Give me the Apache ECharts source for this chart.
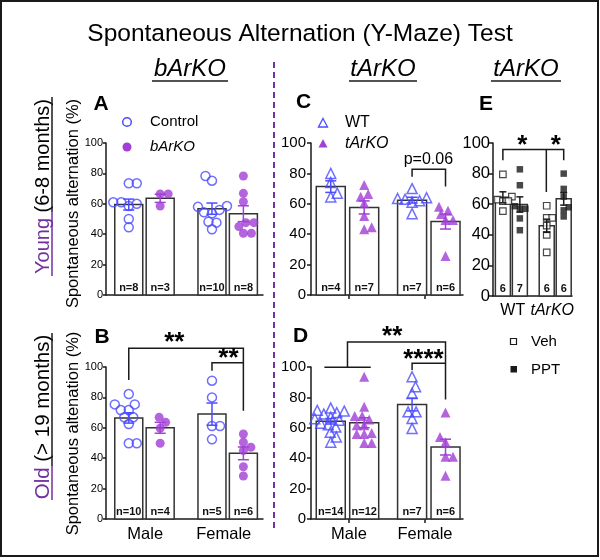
<!DOCTYPE html>
<html>
<head>
<meta charset="utf-8">
<script src="https://cdn.jsdelivr.net/npm/echarts@6/dist/echarts.min.js"></script>
<style>
  html, body { margin: 0; background: #fff; }
  #main { width: 600px; height: 560px; }
</style>
</head>
<body>
<div id="main"></div>
<script>
// ---- data ----
var sexes = ['Male', 'Female'];
var genotypesE = ['WT', 'tArKO'];

// A: young bArKO (Control / bArKO, male then female)
var aCtrlMale = [73.5, 73.5, 61, 61, 60, 58.5, 50, 44.5];
var aKoMale = [66.5, 66.5, 58.5];
var aCtrlFemale = [78.3, 75.2, 58.5, 58, 56, 54.4, 53.7, 48.2, 47.6, 43.2];
var aKoFemale = [78.3, 66.9, 61.4, 47.6, 47.6, 45, 40.6, 40.6];
var aMeans = [59.5, 63.6, 56.8, 53.5];
var aSems = [3.6, 2.7, 3.7, 5.2];

// B: old bArKO
var bCtrlMale = [82.2, 75.4, 75.4, 71.7, 71.7, 66.9, 66.9, 62.5, 49.8, 49.8];
var bKoMale = [66.9, 63.6, 59.7, 49.8];
var bCtrlFemale = [91, 80, 61.2, 61.2, 52.4];
var bKoFemale = [55.9, 50.5, 47.2, 45, 34.4, 28.3];
var bMeans = [66.5, 60, 69, 43.2];
var bSems = [3.4, 3.6, 7.3, 4.2];

// C: young tArKO (WT / tArKO)
var cWtMale = [80, 74, 67, 64.5];
var cKoMale = [72.4, 66.4, 64.7, 60.3, 52, 44.5, 43.2];
var cWtFemale = [70, 64, 63.5, 63, 62, 61, 53.5];
var cKoFemale = [58.1, 55.5, 53.3, 49.3, 49.3, 25.7];
var cMeans = [71.3, 57.6, 62.4, 48.3];
var cSems = [3.8, 4.3, 1.9, 4.9];

// D: old tArKO
var dWtMale = [73, 71.5, 71, 70, 69, 67, 66, 65, 63, 62, 60.5, 57, 54, 50.5];
var dKoMale = [93.6, 73.8, 67.7, 67.7, 65.5, 61.6, 61.6, 56.6, 56, 56, 50, 50];
var dWtFemale = [93.6, 87, 82.6, 70.5, 70.5, 66.2, 59.6];
var dKoFemale = [70, 54, 50.5, 41, 41, 28.5];
var dMeans = [64.3, 63.3, 75.3, 47.3];
var dSems = [1.8, 3.3, 4.2, 5.2];

// E: WT / tArKO, Veh / PPT
var eWtVeh = [79.5, 65, 63, 62, 62, 55.5];
var eWtPpt = [82.8, 72.4, 58.7, 57, 57, 50.7, 43];
var eKoVeh = [59, 51, 51, 46, 40, 28.5];
var eKoPpt = [80, 70, 65, 58, 56, 52];
var eMeans = [64.5, 59.8, 45.9, 63.5];
var eSems = [3.6, 5.0, 4.3, 4.1];

// ---- styling ----
var FONT = 'Arial, "Liberation Sans", sans-serif';
var BLUE = '#4b4bff';
var PURPLE = '#a13fd6';
var DPURPLE = '#7030a0';
var INK = '#1a1a1a';

var chart = echarts.init(document.getElementById('main'));

var grids = [
  { left: 106, top: 143, width: 157, height: 152 },
  { left: 106, top: 367, width: 157, height: 152 },
  { left: 311, top: 143, width: 152, height: 152 },
  { left: 311, top: 367, width: 152, height: 152 },
  { left: 493, top: 143, width: 79, height: 153 }
];

var abLook = { xs: [1.45, 3.45, 6.75, 8.75], bw: 28, cap: 11, yFont: 11, yTick: 3, yMargin: 3,
  colors: [BLUE, PURPLE, BLUE, PURPLE], filled: [false, true, false, true], symbol: 'circle', size: 9, gap: 8, nPrefix: 'n=' };
var cdLook = { xs: [1.3, 3.5, 6.65, 8.85], bw: 29, cap: 11, yFont: 15, yTick: 4, yMargin: 5,
  colors: [BLUE, PURPLE, BLUE, PURPLE], filled: [false, true, false, true], symbol: 'triangle', size: 10, gap: 7.5, nPrefix: 'n=' };

var panels = [
  Object.assign({ sets: [aCtrlMale, aKoMale, aCtrlFemale, aKoFemale], means: aMeans, sems: aSems,
    cats: ['', ''], catTicks: false, notes: { lines: [], texts: [] } }, abLook),
  Object.assign({ sets: [bCtrlMale, bKoMale, bCtrlFemale, bKoFemale], means: bMeans, sems: bSems,
    cats: sexes, catTicks: false,
    notes: {
      lines: [
        [[1.45, 91.4], [1.45, 112.3], [8.75, 112.3], [8.75, 71.2]],
        [[6.75, 97.5], [6.75, 102.8], [8.75, 102.8]]
      ],
      texts: [
        { x: 4.35, y: 112.3, dy: -5, text: '**', size: 26, bold: true },
        { x: 7.8, y: 102.8, dy: -4, text: '**', size: 26, bold: true }
      ]
    } }, abLook),
  Object.assign({ sets: [cWtMale, cKoMale, cWtFemale, cKoFemale], means: cMeans, sems: cSems,
    cats: ['', ''], catTicks: true,
    notes: {
      lines: [[[6.65, 77.8], [6.65, 82.7], [8.85, 82.7], [8.85, 71.3]]],
      texts: [{ x: 7.72, y: 88.8, dy: 0, text: 'p=0.06', size: 16, bold: false }]
    } }, cdLook),
  Object.assign({ sets: [dWtMale, dKoMale, dWtFemale, dKoFemale], means: dMeans, sems: dSems,
    cats: sexes, catTicks: true,
    notes: {
      lines: [
        [[0.88, 99.8], [3.93, 99.8]],
        [[2.4, 99.8], [2.4, 116.4], [8.85, 116.4], [8.85, 78.7]],
        [[6.65, 98], [6.65, 102.4], [8.85, 102.4]]
      ],
      texts: [
        { x: 5.34, y: 116.4, dy: -5, text: '**', size: 26, bold: true },
        { x: 7.4, y: 102.4, dy: -4, text: '****', size: 26, bold: true }
      ]
    } }, cdLook),
  { sets: [eWtVeh, eWtPpt, eKoVeh, eKoPpt], means: eMeans, sems: eSems,
    cats: [genotypesE[0], '{i|' + genotypesE[1] + '}'], catTicks: false,
    xs: [1.25, 3.4, 6.8, 8.95], bw: 15, cap: 7, yFont: 16.5, yTick: 4, yMargin: 3,
    colors: [INK, INK, INK, INK], filled: [false, true, false, true], symbol: 'rect', size: 6.5, gap: 5.5, nPrefix: '',
    notes: {
      lines: [
        [[1.25, 88.7], [1.25, 95.7], [8.95, 95.7], [8.95, 88.7]],
        [[6.75, 95.7], [6.75, 68]]
      ],
      texts: [
        { x: 3.7, y: 95.7, dy: -4, text: '*', size: 26, bold: true },
        { x: 7.94, y: 95.7, dy: -4, text: '*', size: 26, bold: true }
      ]
    } }
];

// beeswarm: push each point sideways until it no longer overlaps the ones already placed
function swarm(vals, pxX, pxY, d) {
  var order = vals.map(function (v, i) { return i; }).sort(function (a, b) { return vals[a] - vals[b]; });
  var placed = [], off = [], sum = 0;
  order.forEach(function (i) {
    var y = vals[i] * pxY, best = 0;
    for (var s = 0; s < 80; s++) {
      var tries = s === 0 ? [0] : (sum > 0 ? [-s * 0.5, s * 0.5] : [s * 0.5, -s * 0.5]);
      var ok = tries.find(function (x) {
        return placed.every(function (p) { return Math.hypot(p[0] - x, p[1] - y) >= d; });
      });
      if (ok !== undefined) { best = ok; break; }
    }
    placed.push([best, y]);
    sum += best;
    off[i] = best / pxX;
  });
  return off;
}

var xAxes = [], yAxes = [], series = [], gridOpts = [];
var barSeries = [], dotSeries = [], errSeries = [], noteSeries = [];

panels.forEach(function (P, p) {
  var g = grids[p];
  gridOpts.push(Object.assign({ outerBoundsMode: 'none', containLabel: false }, g));
  xAxes.push({ type: 'value', gridIndex: p, min: 0, max: 10, show: false });
  xAxes.push({
    type: 'category', gridIndex: p, data: P.cats, position: 'bottom', boundaryGap: true,
    axisLine: { lineStyle: { color: INK, width: 1.5 } },
    axisTick: { show: P.catTicks, alignWithLabel: true, length: 4, lineStyle: { color: INK, width: 1.5 } },
    axisLabel: {
      color: '#000', fontFamily: FONT, fontSize: p === 4 ? 16 : 16.5, margin: 7, interval: 0,
      rich: { i: { fontStyle: 'italic', fontSize: 16, fontFamily: FONT, color: '#000' } }
    },
    splitLine: { show: false }
  });
  yAxes.push({
    type: 'value', gridIndex: p, min: 0, max: 100, interval: 20,
    axisLine: { show: true, lineStyle: { color: INK, width: 1.5 } },
    axisTick: { show: true, length: P.yTick, lineStyle: { color: INK, width: 1.5 } },
    axisLabel: { color: '#000', fontFamily: FONT, fontSize: P.yFont, margin: P.yMargin },
    splitLine: { show: false }
  });

  var xi = 2 * p;
  var labels = P.sets.map(function (s) { return P.nPrefix + s.length; });

  barSeries.push({
    type: 'custom', xAxisIndex: xi, yAxisIndex: p, z: 2, silent: true, clip: false,
    data: P.xs.map(function (x, j) { return [x, P.means[j]]; }),
    renderItem: function (params, api) {
      var x = api.value(0), m = api.value(1);
      var b = api.coord([x, 0]), t = api.coord([x, m]);
      return {
        type: 'group', children: [
          { type: 'rect', shape: { x: b[0] - P.bw / 2, y: t[1], width: P.bw, height: b[1] - t[1] },
            style: { fill: '#fff', stroke: '#333', lineWidth: 1.5 } },
          { type: 'text', x: b[0], y: b[1] - 7,
            style: { text: labels[params.dataIndex], fontSize: 11, fontWeight: 'bold', fontFamily: FONT,
              fill: '#111', align: 'center', verticalAlign: 'middle' } }
        ]
      };
    }
  });

  P.sets.forEach(function (vals, j) {
    var off = swarm(vals, g.width / 10, g.height / 100, P.gap);
    var col = P.colors[j];
    dotSeries.push({
      type: 'scatter', xAxisIndex: xi, yAxisIndex: p, z: 3, silent: true,
      symbol: P.symbol, symbolSize: P.size,
      data: vals.map(function (v, k) { return [P.xs[j] + off[k], v]; }),
      itemStyle: P.filled[j]
        ? { color: col }
        : { color: p === 4 ? '#fff' : 'rgba(255,255,255,0)', borderColor: col, borderWidth: p === 4 ? 1.2 : 1.5 }
    });
  });

  errSeries.push({
    type: 'custom', xAxisIndex: xi, yAxisIndex: p, z: 4, silent: true, clip: false,
    data: P.xs.map(function (x, j) { return [x, P.means[j], P.sems[j]]; }),
    renderItem: function (params, api) {
      var x = api.value(0), m = api.value(1), s = api.value(2);
      var top = api.coord([x, m + s]), bot = api.coord([x, m - s]), h = P.cap / 2;
      var st = { stroke: P.colors[params.dataIndex], lineWidth: 1.5, fill: null };
      return {
        type: 'group', children: [
          { type: 'line', shape: { x1: top[0], y1: top[1], x2: bot[0], y2: bot[1] }, style: st },
          { type: 'line', shape: { x1: top[0] - h, y1: top[1], x2: top[0] + h, y2: top[1] }, style: st },
          { type: 'line', shape: { x1: bot[0] - h, y1: bot[1], x2: bot[0] + h, y2: bot[1] }, style: st }
        ]
      };
    }
  });

  if (P.notes.lines.length) {
    noteSeries.push({
      type: 'custom', xAxisIndex: xi, yAxisIndex: p, z: 5, silent: true, clip: false,
      data: [[0, 0]],
      renderItem: function (params, api) {
        var kids = [];
        P.notes.lines.forEach(function (pts) {
          kids.push({ type: 'polyline', shape: { points: pts.map(function (q) { return api.coord(q); }) },
            style: { stroke: INK, lineWidth: 1.5, fill: null } });
        });
        P.notes.texts.forEach(function (t) {
          var c = api.coord([t.x, t.y]);
          kids.push({ type: 'text', x: c[0], y: c[1] + t.dy,
            style: { text: t.text, fontSize: t.size, fontWeight: t.bold ? 'bold' : 'normal', fontFamily: FONT,
              fill: '#000', align: 'center', verticalAlign: 'middle' } });
        });
        return { type: 'group', children: kids };
      }
    });
  }
});

series = barSeries.concat(dotSeries, errSeries, noteSeries);

function txt(x, y, text, size, extra) {
  return { type: 'text', x: x, y: y, silent: true,
    style: Object.assign({ text: text, fontSize: size, fontFamily: FONT, fill: '#000',
      align: 'center', verticalAlign: 'middle' }, extra || {}) };
}
function ln(x1, y1, x2, y2, color, w, dash) {
  return { type: 'line', silent: true, shape: { x1: x1, y1: y1, x2: x2, y2: y2 },
    style: { stroke: color, lineWidth: w, lineDash: dash || null } };
}
var rot = Math.PI / 2;

var graphics = [
  { type: 'rect', silent: true, shape: { x: 1, y: 1, width: 597, height: 555 },
    style: { fill: null, stroke: INK, lineWidth: 2 } },
  txt(300, 34, 'Spontaneous Alternation (Y-Maze) Test', 24.5),
  txt(190, 69, 'bArKO', 24, { fontStyle: 'italic' }), ln(152, 81, 228, 81, INK, 1.5),
  txt(383, 69, 'tArKO', 24, { fontStyle: 'italic' }), ln(349, 81, 417, 81, INK, 1.5),
  txt(526, 69, 'tArKO', 24, { fontStyle: 'italic' }), ln(491, 81, 561, 81, INK, 1.5),
  ln(274, 62, 274, 532, DPURPLE, 2, [6, 4]),

  Object.assign(txt(43, 186.5, '{p|Young} (6-8 months)', 20,
    { rich: { p: { fill: DPURPLE, fontSize: 20, fontFamily: FONT } } }), { rotation: rot }),
  ln(52, 97, 52, 212, INK, 1.5), ln(52, 212, 52, 276, DPURPLE, 1.5),
  Object.assign(txt(43, 417, '{p|Old} (> 19 months)', 20.5,
    { rich: { p: { fill: DPURPLE, fontSize: 20.5, fontFamily: FONT } } }), { rotation: rot }),
  ln(52, 333, 52, 466, INK, 1.5), ln(52, 466, 52, 500, DPURPLE, 1.5),

  Object.assign(txt(73, 203.5, 'Spontaneous alternation (%)', 16.5), { rotation: rot }),
  Object.assign(txt(73, 433.5, 'Spontaneous altenation (%)', 16.5), { rotation: rot }),

  txt(101, 104, 'A', 21, { fontWeight: 'bold' }),
  txt(102, 337, 'B', 21, { fontWeight: 'bold' }),
  txt(303.5, 102, 'C', 21, { fontWeight: 'bold' }),
  txt(300.5, 336.5, 'D', 21, { fontWeight: 'bold' }),
  txt(486, 104, 'E', 21, { fontWeight: 'bold' }),

  { type: 'circle', silent: true, shape: { cx: 127, cy: 122, r: 4.3 }, style: { fill: null, stroke: BLUE, lineWidth: 1.5 } },
  txt(150, 122, 'Control', 15, { align: 'left' }),
  { type: 'circle', silent: true, shape: { cx: 127, cy: 147, r: 4.5 }, style: { fill: PURPLE } },
  txt(150, 147, 'bArKO', 15, { align: 'left', fontStyle: 'italic' }),

  { type: 'polygon', silent: true, shape: { points: [[323, 118.5], [327.5, 127], [318.5, 127]] },
    style: { fill: null, stroke: BLUE, lineWidth: 1.3 } },
  txt(345, 123, 'WT', 16, { align: 'left' }),
  { type: 'polygon', silent: true, shape: { points: [[323, 139], [327.5, 147.5], [318.5, 147.5]] },
    style: { fill: PURPLE } },
  txt(345, 143.5, 'tArKO', 16, { align: 'left', fontStyle: 'italic' }),

  { type: 'rect', silent: true, shape: { x: 510.5, y: 338.5, width: 6, height: 6 },
    style: { fill: '#fff', stroke: INK, lineWidth: 1.2 } },
  txt(531, 342, 'Veh', 15, { align: 'left' }),
  { type: 'rect', silent: true, shape: { x: 510.5, y: 366, width: 6.5, height: 6.5 }, style: { fill: INK } },
  txt(531, 369.5, 'PPT', 15, { align: 'left' })
];

chart.setOption({
  animation: false,
  backgroundColor: '#fff',
  grid: gridOpts,
  xAxis: xAxes,
  yAxis: yAxes,
  series: series,
  graphic: graphics
});
</script>
</body>
</html>
